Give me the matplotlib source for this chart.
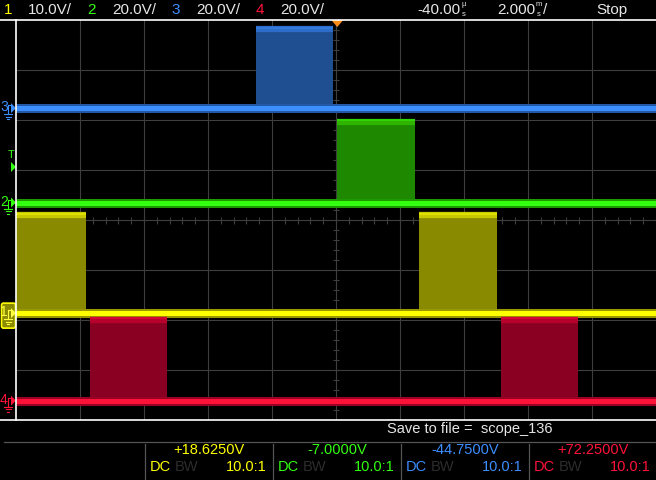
import matplotlib
matplotlib.use('Agg')
import numpy as np
import matplotlib.pyplot as plt
from matplotlib.patches import Polygon, FancyBboxPatch

W, H = 656, 480
FONT = ['Liberation Sans', 'DejaVu Sans']

# scope setup
time_per_div = 2.0      # ms/div
delay = -0.04           # ms
trig_level = 14.2       # V on channel 2
chan_names = ['1', '2', '3', '4']
volts_per_div = [10.0, 20.0, 20.0, 20.0]
offsets = [18.625, -7.0, -44.75, 72.25]
probe = ['10.0:1', '10.0:1', '10.0:1', '10.0:1']
colors = ['#ffff00', '#33ff11', '#3d8eff', '#ff1238']
dark_colors = ['#9a9a00', '#1c9a00', '#2358a8', '#9a0024']
fill_colors = ['#8a8a00', '#1e8800', '#1f4f90', '#8a0022']
top_colors = ['#c8c800', '#2fb400', '#2d6cc8', '#b8002c']

# waveform levels (V) and pulse spans (ms)
low_level = [0.0, 0.0, 0.0, 0.0]
high_level = [19.6, 32.2, 31.6, 32.3]
pulses = [
    [(-10.3, -7.85), (2.55, 4.99)],
    [(-0.01, 2.43)],
    [(-2.54, -0.13)],
    [(-7.73, -5.32), (5.12, 7.52)],
]

t_left = delay - 5 * time_per_div
t_right = delay + 5 * time_per_div


def to_div(v, ch):
    return (v - offsets[ch]) / volts_per_div[ch]


def div_to_px(y):
    return 20 + (4 - y) * 50


def t_to_px(t):
    return 16 + (t - t_left) / time_per_div * 64


fig = plt.figure(figsize=(W / 100, H / 100), dpi=100, facecolor='black')
ax = fig.add_axes([16 / W, 60 / H, 640 / W, 400 / H])
ax.set_facecolor('black')
ax.set_xlim(t_left, t_right)
ax.set_ylim(-4, 4)
ax.axis('off')

# graticule
grid_c = '#3e3e3e'
for k in range(-4, 5):
    ax.axvline(delay + k * time_per_div, color=grid_c, lw=0.8, zorder=1)
for k in range(-3, 4):
    ax.axhline(k, color=grid_c, lw=0.8, zorder=1)
minor_x = np.arange(-25, 26) * time_per_div / 5 + delay
minor_y = np.arange(-20, 21) / 5
ax.vlines(minor_x, -0.07, 0.07, color=grid_c, lw=0.8, zorder=1)
ax.hlines(minor_y, delay - 0.09, delay + 0.09, color=grid_c, lw=0.8, zorder=1)

# traces
for ch in range(4):
    lo = to_div(low_level[ch], ch)
    hi = to_div(high_level[ch], ch)
    for (a, b) in pulses[ch]:
        ax.fill_between([a, b], lo, hi, color=fill_colors[ch], lw=0, zorder=2 + ch)
        ax.plot([a, b], [hi, hi], color=top_colors[ch], lw=4.5, solid_capstyle='butt', zorder=2 + ch)
        ax.plot([a, b], [hi + 0.03, hi + 0.03], color=colors[ch], lw=1.2, alpha=0.5,
                solid_capstyle='butt', zorder=2 + ch)
    ax.axhline(lo, color=dark_colors[ch], lw=6.5, zorder=2 + ch)
    ax.axhline(lo, color=colors[ch], lw=3.6, zorder=2 + ch)

# overlay in pixel coordinates
ov = fig.add_axes([0, 0, 1, 1], zorder=10)
ov.set_xlim(0, W)
ov.set_ylim(H, 0)
ov.axis('off')
ov.patch.set_alpha(0)

# frame
ov.plot([0, W], [20, 20], color='white', lw=1.2)
ov.plot([0, W], [420, 420], color='white', lw=1.2)
ov.plot([16, 16], [20, 420], color='white', lw=1.2)

txt = '#e6e6e6'
# top status line
for ch in range(4):
    ov.text(8 + 84 * ch, 10, chan_names[ch], color=colors[ch], fontsize=11,
            family=FONT, ha='center', va='center')
    ov.text(28 + 84 * ch, 10, f'{volts_per_div[ch]:.1f}V/', color=txt, fontsize=11,
            family=FONT, ha='left', va='center')
ov.text(460, 10, f'{delay * 1000:.2f}', color=txt, fontsize=11, family=FONT, ha='right', va='center')
ov.text(464, 5, 'µ', color=txt, fontsize=5.5, family=FONT, ha='center', va='center')
ov.text(464, 14, 's', color=txt, fontsize=5.5, family=FONT, ha='center', va='center')
ov.text(535, 10, f'{time_per_div:.3f}', color=txt, fontsize=11, family=FONT, ha='right', va='center')
ov.text(539, 5, 'm', color=txt, fontsize=5.5, family=FONT, ha='center', va='center')
ov.text(539, 14, 's', color=txt, fontsize=5.5, family=FONT, ha='center', va='center')
ov.text(543, 10, '/', color=txt, fontsize=11, family=FONT, ha='left', va='center')
ov.text(596, 10, 'Stop', color=txt, fontsize=11, family=FONT, ha='left', va='center')

# trigger position marker
tx = t_to_px(0)
ov.add_patch(Polygon([[tx - 6, 20], [tx + 6, 20], [tx, 27]], closed=True,
                     facecolor='#ff8c1a', edgecolor='none'))

# ground markers
for ch in range(4):
    py = div_to_px(to_div(0, ch))
    c = colors[ch]
    if ch == 0:
        ov.add_patch(FancyBboxPatch((1.5, py - 10), 14, 25, boxstyle='round,pad=0,rounding_size=2',
                                    facecolor='#8a8a00', edgecolor=c, lw=1.2))
        c = '#ffff40'
    ov.text(4, py - 1, chan_names[ch], color=c, fontsize=10, family=FONT, ha='center', va='center')
    ov.add_patch(Polygon([[11, py - 5], [11, py + 5], [16, py]], closed=True,
                         facecolor=c, edgecolor='none'))
    ov.plot([8, 11], [py - 3, py - 3], color=c, lw=0.8)
    ov.plot([8, 8], [py - 3, py + 6], color=c, lw=0.8)
    ov.plot([4, 12], [py + 6, py + 6], color=c, lw=0.8)
    ov.plot([5.5, 10.5], [py + 8.5, py + 8.5], color=c, lw=0.8)
    ov.plot([7, 9], [py + 11, py + 11], color=c, lw=0.8)

# trigger level marker
py = div_to_px(to_div(trig_level, 1))
ov.add_patch(Polygon([[11, py - 5], [11, py + 5], [16, py]], closed=True,
                     facecolor=colors[1], edgecolor='none'))
ov.text(11, py - 12, 'T', color=colors[1], fontsize=8, family=FONT, ha='center', va='center')

# bottom info area
ov.text(387, 429, 'Save to file =  scope_136', color=txt, fontsize=10.5, family=FONT,
        ha='left', va='center')
ov.plot([4, W], [442, 442], color='#555555', lw=0.9)
for ch in range(4):
    x0 = 145 + 128 * ch
    ov.plot([x0, x0], [444, H], color='#555555', lw=0.9)
    ov.text(x0 + 64, 450, f'{offsets[ch]:+.4f}V', color=colors[ch], fontsize=10.5,
            family=FONT, ha='center', va='center')
    ov.text(x0 + 5, 467, 'DC', color=colors[ch], fontsize=10.5, family=FONT, ha='left', va='center')
    ov.text(x0 + 30, 467, 'BW', color='#2c2c2c', fontsize=10.5, family=FONT, ha='left', va='center')
    ov.text(x0 + 122, 467, probe[ch], color=colors[ch], fontsize=10.5, family=FONT,
            ha='right', va='center')

fig.savefig('out.png', dpi=100, facecolor='black')
